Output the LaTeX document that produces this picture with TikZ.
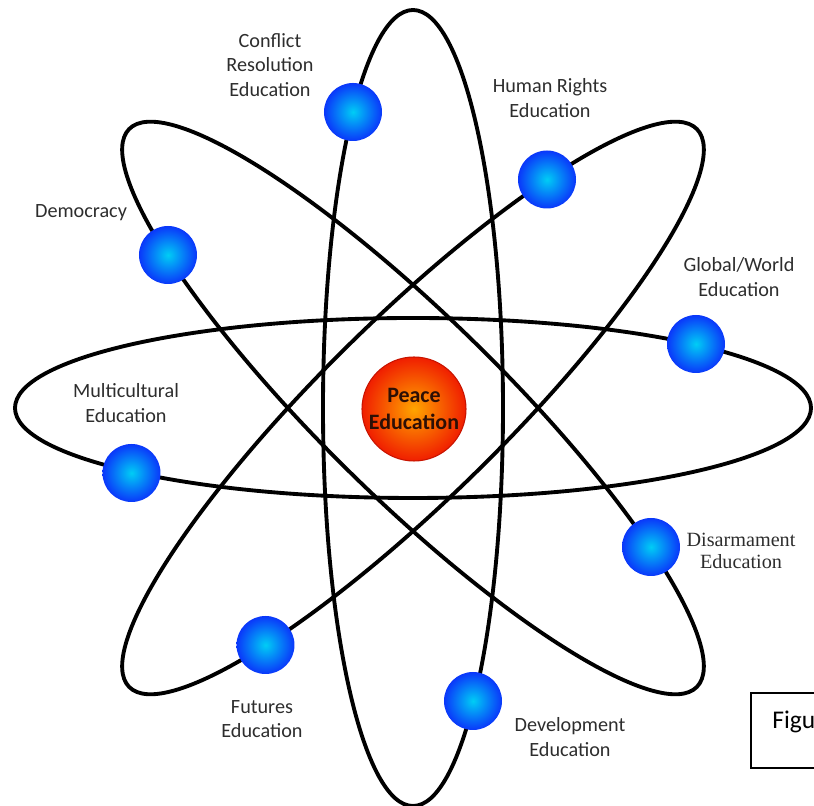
\documentclass[tikz,border=0pt]{standalone}
\usepackage{fontspec}
\setmainfont{Carlito}
\newfontfamily\timesfont{Liberation Serif}

\definecolor{eblue}{RGB}{10,55,250}
\definecolor{ecyan}{RGB}{0,205,245}
\definecolor{corecenter}{RGB}{255,165,0}
\definecolor{coreedge}{RGB}{240,30,0}
\definecolor{corerim}{RGB}{200,20,0}
\definecolor{lblgray}{RGB}{45,45,45}

\tikzset{
  orbit/.style={draw=black, line width=2.2pt},
  electron/.style={circle, minimum size=1.16cm, inner sep=0pt,
    inner color=ecyan, outer color=eblue},
  lbl/.style={align=center, text=lblgray, font=\fontsize{11.5}{14}\selectfont}
}

\begin{document}
\begin{tikzpicture}
      \useasboundingbox (-8.26,-7.96) rectangle (8.02,8.16);
      % orbits
      \foreach \ang in {0,90,-44.5,44.5}
        \draw[orbit, rotate=\ang] (0,0) ellipse [x radius=7.96, y radius=1.8];
      \begin{scope}[every node/.style={electron}]
        \node (conflict) at (-1.20, 5.92) {};
        \node (rights) at (2.68, 4.57) {};
        \node (democracy) at (-4.90, 3.06) {};
        \node (global) at (5.66, 1.28) {};
        \node (multi) at (-5.63, -1.30) {};
        \node (disarm) at (4.76, -2.78) {};
        \node (futures) at (-2.95, -4.74) {};
        \node (develop) at (1.20, -5.86) {};
      \end{scope}
      \node[circle, minimum size=2.08cm, inner sep=0pt, draw=corerim, line width=0.6pt,
        inner color=corecenter, outer color=coreedge, align=center,
        text={rgb,255:red,45;green,15;blue,5}, font=\bfseries\fontsize{12.5}{15}\selectfont]
        (peace) at (0.02,-0.02) {Peace\\Education};
      \begin{scope}[every node/.style={lbl}]
        \node (conflictlbl) at (-2.86, 6.86) {Conflict\\Resolution\\Education};
        \node (rightslbl) at (2.74, 6.20) {Human Rights\\Education};
        \node (democracylbl) at (-6.64, 3.90) {Democracy};
        \node (globallbl) at (6.52, 2.62) {Global/World\\Education};
        \node (multilbl) at (-5.74, 0.10) {Multicultural\\Education};
        \node[font=\timesfont\fontsize{11.5}{12.5}\selectfont] (disarmlbl) at (6.56, -2.86) {Disarmament\\Education};
        \node (futureslbl) at (-3.02, -6.22) {Futures\\Education};
        \node (developlbl) at (3.14, -6.58) {Development\\Education};
      \end{scope}
      % caption box, cut by the page edge
      \draw[line width=0.6pt] (8.1,-5.7) -| (6.76,-7.2) -- (8.1,-7.2);
      \node[anchor=west, inner sep=0pt, font=\fontsize{14.5}{17}\selectfont] (fig) at (7.18,-6.28) {Figu};
    \end{tikzpicture}
\end{document}
